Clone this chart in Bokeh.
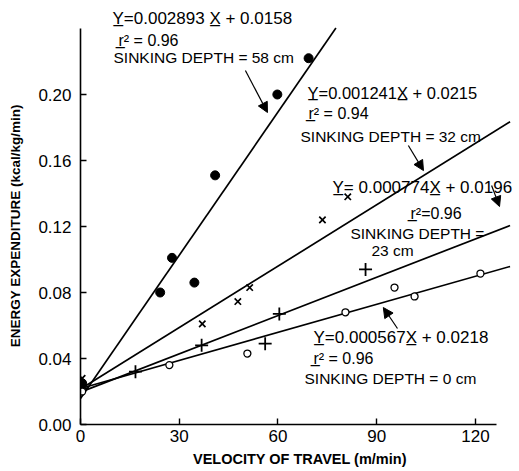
from bokeh.plotting import figure
from bokeh.models import (FixedTicker, NumeralTickFormatter, Label, Arrow, NormalHead, Range1d)
from bokeh.embed import file_html
from bokeh.resources import INLINE

# ---- data ----
dot_x = [0.5, 24.2, 27.8, 34.6, 40.9, 59.8, 69.3]
dot_y = [0.025, 0.080, 0.101, 0.086, 0.151, 0.200, 0.222]

cross_x = [0.5, 37.0, 47.8, 51.4, 73.5, 81.2]
cross_y = [0.028, 0.061, 0.0745, 0.083, 0.124, 0.138]

plus_x = [0.5, 16.7, 36.8, 56.1, 60.4, 86.6]
plus_y = [0.022, 0.032, 0.048, 0.049, 0.067, 0.094]

circ_x = [0.5, 27.0, 50.7, 80.5, 95.4, 101.5, 121.5]
circ_y = [0.020, 0.036, 0.043, 0.068, 0.083, 0.0776, 0.0915]

# regression lines (slope, intercept as printed on the chart) and their x extent
slopes = [0.002893, 0.001241, 0.000774, 0.000567]
intercepts = [0.0158, 0.0215, 0.0196, 0.0218]
x_ends = [77.6, 130.5, 130.5, 130.5]

x_ticks = [0, 30, 60, 90, 120]
y_ticks = [0.0, 0.04, 0.08, 0.12, 0.16, 0.20]

FONT = "Liberation Sans"

p = figure(width=519, height=471, output_backend="svg", toolbar_location=None,
           x_range=Range1d(0, 133.37), y_range=Range1d(0, 0.25455),
           min_border_left=80, min_border_right=0, min_border_top=4, min_border_bottom=47)
p.outline_line_color = None
p.xgrid.visible = False
p.ygrid.visible = False
p.background_fill_color = "white"

for ax in (p.xaxis[0], p.yaxis[0]):
    ax.axis_line_color = "black"
    ax.axis_line_width = 1.6
    ax.major_tick_in = 6
    ax.major_tick_out = 0
    ax.major_tick_line_width = 1.4
    ax.minor_tick_line_color = None
    ax.major_label_text_font = FONT
    ax.major_label_text_font_size = "17px"
    ax.major_label_text_color = "black"
    ax.axis_label_text_font = FONT
    ax.axis_label_text_font_style = "bold"
    ax.axis_label_text_color = "black"

p.xaxis.major_label_standoff = 5
p.yaxis.major_label_standoff = 9
p.xaxis.ticker = FixedTicker(ticks=x_ticks)
p.yaxis.ticker = FixedTicker(ticks=y_ticks)
p.yaxis.formatter = NumeralTickFormatter(format="0.00")
p.xaxis.bounds = (0, 126.5)
p.yaxis.bounds = (0, 0.24)

p.xaxis.axis_label = "VELOCITY OF TRAVEL (m/min)"
p.xaxis.axis_label_text_font_size = "14.5px"
p.xaxis.axis_label_standoff = 6
# trailing no-break spaces nudge the centred vertical title downwards, as in the original
p.yaxis.axis_label = "ENERGY EXPENDITURE (kcal/kg/min)" + "\u00a0" * 6
p.yaxis.axis_label_text_font_size = "13.5px"
p.yaxis.axis_label_standoff = 12

# regression lines
for m, b, xe in zip(slopes, intercepts, x_ends):
    p.line([0, xe], [b, b + m * xe], line_color="black", line_width=1.7)

# markers
p.scatter(dot_x, dot_y, marker="circle", size=9, fill_color="black", line_color="black")
p.scatter(cross_x, cross_y, marker="x", size=9, line_color="black", line_width=1.7)
p.scatter(plus_x, plus_y, marker="cross", size=13, line_color="black", line_width=1.8)
p.scatter(circ_x, circ_y, marker="circle", size=7, fill_color="white", line_color="black",
          line_width=1.3)

U = "\u0332"
labels = [
    ("Y" + U + "=0.002893 X" + U + " + 0.0158", 9.72, 0.2461, "17px"),
    ("r" + U + "² = 0.96", 11.54, 0.2327, "16px"),
    ("SINKING DEPTH = 58 cm", 10.03, 0.2224, "15.5px"),
    ("Y" + U + "=0.001241X" + U + " + 0.0215", 68.96, 0.2012, "16.5px"),
    ("r" + U + "² = 0.94", 69.27, 0.1885, "16px"),
    ("SINKING DEPTH = 32 cm", 66.84, 0.1745, "15.5px"),
    ("Y" + U + "= 0.000774X" + U + " + 0.0196", 76.56, 0.1436, "17px"),
    ("r" + U + "²=0.96", 100.25, 0.1279, "16px"),
    ("SINKING DEPTH =", 82.02, 0.1158, "15.5px"),
    ("23 cm", 88.4, 0.1055, "15.5px"),
    ("Y" + U + "=0.000567X" + U + " + 0.0218", 70.78, 0.0527, "17px"),
    ("r" + U + "² = 0.96", 70.78, 0.0400, "16px"),
    ("SINKING DEPTH = 0 cm", 68.05, 0.0279, "15.5px"),
]
for txt, x, y, fs in labels:
    p.add_layout(Label(x=x, y=y, text=txt, text_font=FONT, text_font_size=fs,
                       text_baseline="middle", text_align="left", text_color="black"))

arrows = [
    (50.1, 0.2145, 56.8, 0.1891),
    (99.6, 0.1691, 104.2, 0.1539),
    (124.9, 0.1448, 127.3, 0.1321),
    (96.3, 0.0582, 92.0, 0.0709),
]
for xs, ys, xe, ye in arrows:
    p.add_layout(Arrow(x_start=xs, y_start=ys, x_end=xe, y_end=ye, line_width=1.2,
                       end=NormalHead(size=10, fill_color="black", line_color="black")))

open("out.html", "w").write(file_html(p, INLINE))
